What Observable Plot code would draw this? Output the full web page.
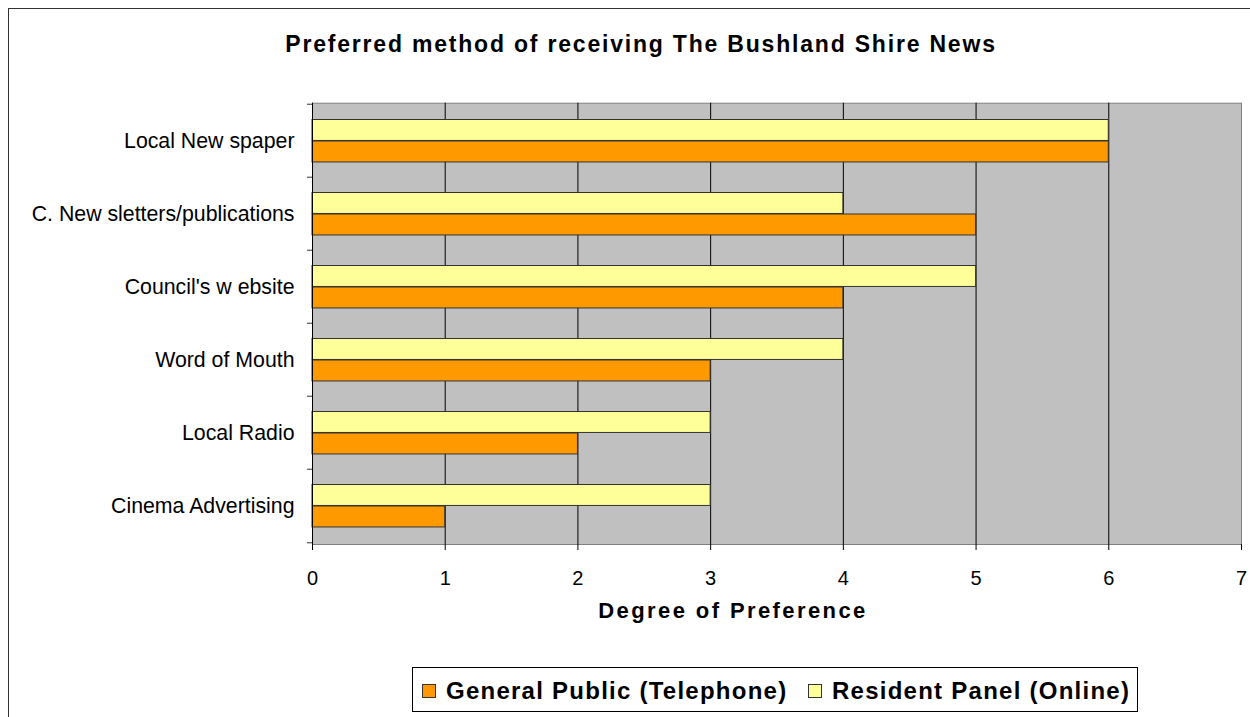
<!DOCTYPE html>
<html><head><meta charset="utf-8">
<script src="https://cdn.jsdelivr.net/npm/d3@7"></script>
<script src="https://cdn.jsdelivr.net/npm/@observablehq/plot@0.6"></script>
<style>
body{margin:0;background:#fff;font-family:"Liberation Sans",Arial,sans-serif;}
#wrap{position:relative;width:1250px;height:717px;overflow:hidden;}
#border{position:absolute;left:8px;top:8px;width:1270px;height:730px;border:1.5px solid #333;box-sizing:border-box;}
#title{position:absolute;top:33px;left:0;width:1282px;text-align:center;font-weight:bold;font-size:23px;line-height:23px;letter-spacing:1.8px;color:#000;white-space:nowrap;}
#xlabel{position:absolute;top:600px;left:0;width:1466px;text-align:center;font-weight:bold;font-size:22px;line-height:22px;letter-spacing:2.4px;color:#000;white-space:nowrap;}
#legend{position:absolute;left:412px;top:667px;width:726px;height:45px;border:1px solid #000;box-sizing:border-box;}
.sw{position:absolute;top:16px;width:14px;height:14px;border:1px solid #333;box-sizing:border-box;}
.lt{position:absolute;top:11px;font-weight:bold;font-size:24px;line-height:24px;letter-spacing:1.25px;white-space:nowrap;color:#000;}
#chart{position:absolute;left:0;top:0;}
</style></head>
<body>
<div id="wrap">
<div id="chart"></div>
<div id="border"></div>
<div id="title"></div>
<div id="xlabel"></div>
<div id="legend"></div>
</div>
<script>
const categories = ["Local New spaper","C. New sletters/publications","Council's w ebsite","Word of Mouth","Local Radio","Cinema Advertising"];
const generalPublic = [6,5,4,3,2,1];
const residentPanel = [6,4,5,4,3,3];
const xTicks = [0,1,2,3,4,5,6,7];
const seriesNames = ["General Public (Telephone)","Resident Panel (Online)"];
const titleText = "Preferred method of receiving The Bushland Shire News";
const xLabelText = "Degree of Preference";

const colors = ["#FF9900","#FFFF99"];
const rows = categories.map((c,i)=>({category:c, gp:generalPublic[i], rp:residentPanel[i]}));
const plotTop = 102.7, plotBottom = 544;
const band = (plotBottom-plotTop)/categories.length;

const chart = Plot.plot({
  width:1250, height:717,
  marginLeft:312, marginRight:9, marginTop:plotTop, marginBottom:717-plotBottom,
  x:{domain:[0,7], ticks:xTicks},
  y:{domain:categories, padding:0},
  style:{fontFamily:"Liberation Sans, Arial, sans-serif", fontSize:"20px", background:"transparent", color:"#000"},
  marks:[
    Plot.frame({fill:"#C0C0C0", stroke:"#808080"}),
    Plot.ruleX(xTicks.filter(v=>v>0&&v<7), {stroke:"#000", strokeOpacity:1}),
    Plot.barX(rows,{y:"category", x:"rp", fill:colors[1], stroke:"#333", strokeWidth:1, insetTop:15.5, insetBottom:band-37}),
    Plot.barX(rows,{y:"category", x:"gp", fill:colors[0], stroke:"#333", strokeWidth:1, insetTop:37, insetBottom:band-58.5}),
    Plot.ruleX([0],{stroke:"#000", strokeOpacity:1}),
    Plot.axisX({ticks:xTicks, tickFormat:d3.format("d"), tickSize:6, tickPadding:20, label:null, fontSize:20, stroke:"#000", strokeOpacity:1, fill:"#000"}),
    Plot.axisY({tickSize:0, tickPadding:18, label:null, fontSize:21.3, fill:"#000"}),
    Plot.ruleY(categories,{y:d=>d, x1:0, x2:0, insetLeft:-5, dy:-band/2, stroke:"#333"}),
    Plot.ruleY([categories[categories.length-1]],{y:d=>d, x1:0, x2:0, insetLeft:-5, dy:band/2, stroke:"#333"})
  ]
});
document.getElementById("chart").appendChild(chart);
document.getElementById("title").textContent = titleText;
document.getElementById("xlabel").textContent = xLabelText;
const leg = document.getElementById("legend");
const swLeft = [9, 395], txtLeft = [33, 419];
seriesNames.forEach((n,i)=>{
  const sw = document.createElement("span"); sw.className="sw"; sw.style.background = colors[i]; sw.style.left = swLeft[i]+"px";
  const t = document.createElement("span"); t.className="lt"; t.textContent = n; t.style.left = txtLeft[i]+"px";
  leg.appendChild(sw); leg.appendChild(t);
});
</script>
</body></html>
